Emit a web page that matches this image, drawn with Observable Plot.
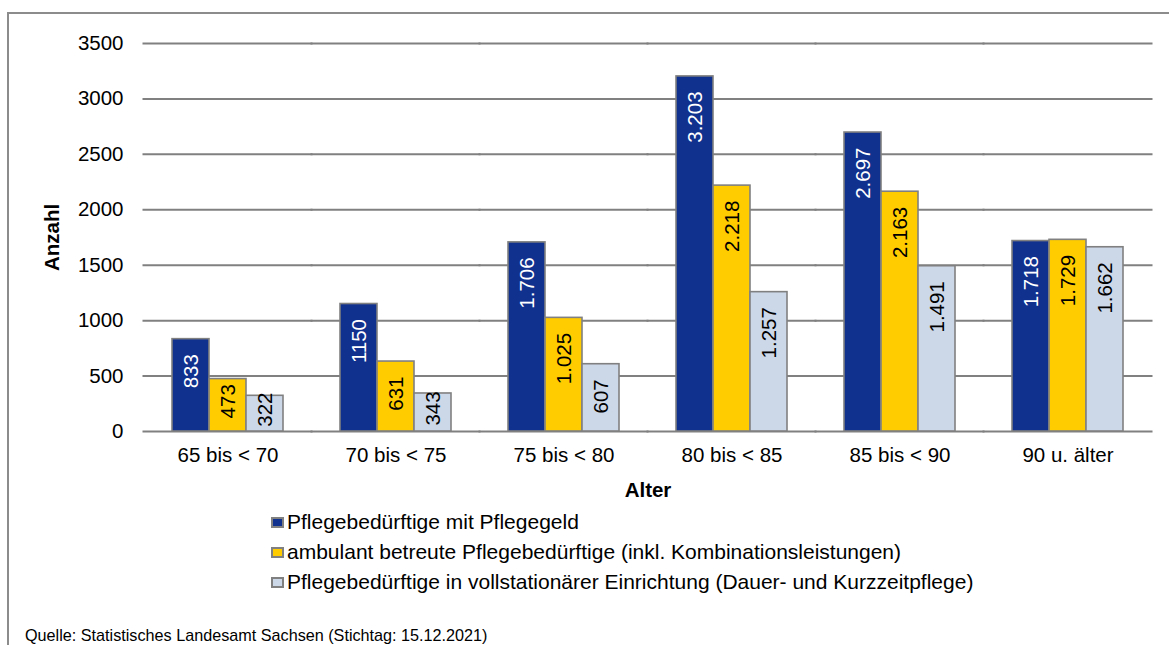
<!DOCTYPE html>
<html>
<head>
<meta charset="utf-8">
<script src="https://cdn.jsdelivr.net/npm/d3@7"></script>
<script src="https://cdn.jsdelivr.net/npm/@observablehq/plot@0.6"></script>
<style>
  html, body { margin: 0; padding: 0; background: #fff; }
  #wrap { position: relative; width: 1169px; height: 645px; overflow: hidden; background: #fff;
          font-family: "Liberation Sans", Arial, sans-serif; color: #000; }
  #frame { position: absolute; left: 7px; top: 12px; width: 1250px; height: 750px;
           border: 2px solid #8c8c8c; box-sizing: border-box; }
  #chart { position: absolute; left: 0; top: 0; }
  #legend { position: absolute; left: 271px; top: 507px; font-size: 21px; }
  .row { height: 30px; line-height: 30px; display: flex; align-items: center; white-space: nowrap; }
  .sw { width: 13px; height: 11px; border: 2px solid #808080; box-sizing: border-box; margin-right: 3px; }
  #caption { position: absolute; left: 25px; top: 626px; font-size: 16.2px; line-height: 18px; white-space: nowrap; }
  svg [aria-label$="axis label"] { font-weight: bold; }
</style>
</head>
<body>
<div id="wrap">
  <div id="frame"></div>
  <div id="chart"></div>
  <div id="legend"></div>
  <div id="caption">Quelle: Statistisches Landesamt Sachsen (Stichtag: 15.12.2021)</div>
</div>
<script>
const categories = ["65 bis < 70", "70 bis < 75", "75 bis < 80", "80 bis < 85", "85 bis < 90", "90 u. älter"];
const seriesNames = [
  "Pflegebedürftige mit Pflegegeld",
  "ambulant betreute Pflegebedürftige (inkl. Kombinationsleistungen)",
  "Pflegebedürftige in vollstationärer Einrichtung (Dauer- und Kurzzeitpflege)"
];
const pflegegeld = [833, 1150, 1706, 3203, 2697, 1718];
const ambulant = [473, 631, 1025, 2218, 2163, 1729];
const stationaer = [322, 343, 607, 1257, 1491, 1662];
const pflegegeldLabels = ["833", "1150", "1.706", "3.203", "2.697", "1.718"];
const ambulantLabels = ["473", "631", "1.025", "2.218", "2.163", "1.729"];
const stationaerLabels = ["322", "343", "607", "1.257", "1.491", "1.662"];
const yTicks = [0, 500, 1000, 1500, 2000, 2500, 3000, 3500];
const colors = ["#11318f", "#ffcc00", "#ccd7e8"];

const seriesValues = [pflegegeld, ambulant, stationaer];
const seriesLabels = [pflegegeldLabels, ambulantLabels, stationaerLabels];
const data = [];
categories.forEach((cat, i) => {
  seriesNames.forEach((s, j) => {
    data.push({cat, series: s, idx: j, value: seriesValues[j][i], label: seriesLabels[j][i]});
  });
});

const blue = data.filter(d => d.idx === 0);
const otherBig = data.filter(d => d.idx !== 0 && d.value >= 600);
const otherSmall = data.filter(d => d.idx !== 0 && d.value < 600);

const chart = Plot.plot({
  width: 1169,
  height: 510,
  marginTop: 43,
  marginBottom: 79,
  marginLeft: 141,
  marginRight: 16,
  style: {fontFamily: '"Liberation Sans", Arial, sans-serif', fontSize: "20.5px", color: "#000", background: "transparent", overflow: "visible"},
  fx: {domain: categories, paddingInner: 0.33, paddingOuter: 0.165, tickSize: 0, tickPadding: 16,
       label: "Alter", labelAnchor: "center", labelOffset: 65, labelArrow: "none"},
  x: {domain: seriesNames, axis: null, padding: 0},
  y: {domain: [0, 3500], ticks: yTicks, tickSize: 0, tickPadding: 48, tickFormat: "d",
      label: "Anzahl", labelAnchor: "center", labelOffset: 127, labelArrow: "none"},
  color: {domain: seriesNames, range: colors},
  marks: [
    Plot.ruleY(yTicks, {stroke: "#808080", strokeWidth: 2, insetLeft: -28.5, insetRight: -28.5}),
    Plot.barY(data, {fx: "cat", x: "series", y: "value", fill: "series", stroke: "#808080", strokeWidth: 1.6}),
    Plot.text(blue, {fx: "cat", x: "series", y: "value", text: "label", rotate: -90, textAnchor: "end", dy: 15, fill: "white"}),
    Plot.text(otherBig, {fx: "cat", x: "series", y: "value", text: "label", rotate: -90, textAnchor: "end", dy: 15, fill: "black"}),
    Plot.text(otherSmall, {fx: "cat", x: "series", y: d => d.value / 2, text: "label", rotate: -90, textAnchor: "middle", dy: -4, fill: "black"})
  ]
});
document.getElementById("chart").appendChild(chart);

const legend = document.getElementById("legend");
seriesNames.forEach((s, j) => {
  const row = document.createElement("div");
  row.className = "row";
  const sw = document.createElement("span");
  sw.className = "sw";
  sw.style.background = colors[j];
  const t = document.createElement("span");
  t.textContent = s;
  row.appendChild(sw);
  row.appendChild(t);
  legend.appendChild(row);
});
</script>
</body>
</html>
